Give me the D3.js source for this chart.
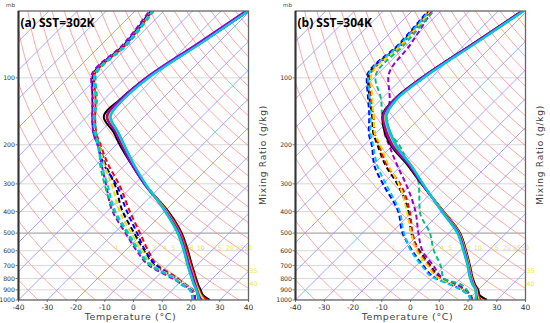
<!DOCTYPE html>
<html><head><meta charset="utf-8">
<script src="https://cdn.jsdelivr.net/npm/d3@7"></script>
<style>body{margin:0;background:#fff}svg{display:block}</style>
</head><body>
<svg id="c" width="550" height="323"></svg>
<script>
// ---------------- data ----------------
const pressureLevels = [1000, 950, 900, 850, 800, 700, 600, 500, 400, 300, 250, 200, 175, 150, 125, 100, 70, 50];
const seriesColors = ["#000000", "#ff0000", "#0000ff", "#f0dc00", "#9900cc", "#00c080", "#00c8e8"];
const panelTitles = ["(a) SST=302K", "(b) SST=304K"];
const isobarTicks = [100, 200, 300, 400, 500, 600, 700, 800, 900, 1000];
const tempTicks = [-40, -30, -20, -10, 0, 10, 20, 30, 40];
const mixRatioLabels = [1, 2, 3, 4, 5, 8, 10, 15, 20, 25, 30, 35, 40];

// panel (a) temperature (°C) per series
const tempA = [
  [26.5, 22.5, 19.8, 17.0, 14.3, 8.4, 1.8, -6.5, -18.6, -36.6, -46.8, -58.8, -65.5, -74.0, -74.5, -72.5, -66.0, -60.5],
  [25.5, 22.0, 19.3, 16.6, 14.0, 8.1, 1.5, -6.8, -18.9, -36.4, -46.4, -58.0, -64.7, -73.0, -74.0, -72.5, -66.3, -61.0],
  [24.0, 21.3, 18.8, 16.0, 13.3, 7.4, 0.8, -7.4, -19.3, -36.6, -46.6, -58.0, -64.5, -72.5, -74.0, -72.8, -66.5, -61.2],
  [24.5, 21.6, 19.0, 16.3, 13.6, 7.7, 1.0, -7.2, -19.2, -36.5, -46.5, -57.8, -64.3, -72.3, -73.6, -72.2, -66.0, -60.8],
  [23.5, 21.0, 18.6, 16.0, 13.4, 7.5, 0.9, -7.3, -19.4, -36.7, -46.8, -58.2, -64.8, -72.8, -74.2, -73.0, -67.0, -61.5],
  [22.5, 20.5, 18.2, 15.4, 12.7, 6.8, 0.3, -8.0, -19.8, -36.3, -46.0, -57.2, -63.8, -71.6, -73.2, -72.0, -65.8, -60.5],
  [23.0, 20.8, 18.4, 15.6, 12.9, 7.0, 0.5, -7.7, -19.6, -36.2, -46.1, -57.3, -63.9, -71.8, -73.4, -72.1, -65.9, -60.6]
];
// panel (a) dew point (°C) per series
const dewA = [
  [21.5, 19.5, 17.0, 12.5, 7.5, -4.5, -13.5, -23.0, -34.5, -47.0, -56.0, -66.0, -72.0, -77.5, -84.0, -91.5, -92.0, -94.5],
  [21.0, 19.0, 16.5, 12.0, 8.0, -3.5, -12.0, -21.0, -32.0, -45.5, -55.0, -65.5, -71.5, -77.0, -83.0, -91.0, -91.5, -94.0],
  [21.0, 19.0, 16.5, 12.0, 7.0, -4.0, -13.0, -22.0, -33.0, -46.5, -56.5, -66.5, -72.5, -78.0, -84.0, -91.5, -92.0, -94.5],
  [21.2, 19.2, 16.8, 12.2, 7.2, -5.0, -14.0, -24.0, -35.5, -48.0, -56.5, -66.0, -72.0, -77.5, -83.5, -91.0, -91.5, -94.0],
  [21.5, 19.3, 16.4, 11.5, 6.0, -6.5, -16.0, -26.0, -38.0, -50.0, -57.5, -66.5, -72.5, -78.0, -84.0, -92.0, -92.5, -95.0],
  [20.5, 18.5, 16.0, 11.0, 6.5, -6.0, -15.5, -25.5, -37.5, -50.5, -58.0, -66.0, -71.5, -77.0, -82.5, -90.5, -91.0, -93.5],
  [20.7, 18.7, 16.2, 11.5, 6.8, -5.5, -15.0, -25.0, -37.0, -49.5, -57.5, -66.5, -72.0, -77.5, -83.0, -91.0, -91.5, -94.0]
];
// panel (b) temperature (°C) per series
const tempB = [
  [26.6, 22.3, 20.0, 17.0, 14.2, 8.7, 2.2, -6.0, -19.2, -36.6, -47.2, -61.0, -67.5, -73.5, -75.5, -73.5, -67.5, -61.8],
  [24.5, 21.8, 19.6, 16.7, 14.0, 8.5, 2.0, -6.2, -19.3, -36.4, -46.8, -60.5, -67.0, -73.2, -75.2, -73.2, -67.2, -61.5],
  [23.5, 21.3, 19.3, 16.4, 13.7, 8.3, 1.8, -6.4, -19.5, -36.3, -46.5, -60.2, -66.6, -73.0, -75.0, -73.0, -67.0, -61.4],
  [23.8, 21.5, 19.4, 16.5, 13.8, 8.4, 1.9, -6.3, -19.4, -36.2, -46.4, -60.0, -66.5, -72.8, -74.8, -72.9, -66.9, -61.3],
  [23.3, 21.2, 19.2, 16.3, 13.6, 8.2, 1.7, -6.5, -19.6, -36.4, -46.6, -60.3, -66.8, -73.2, -75.3, -73.4, -67.3, -61.6],
  [22.5, 21.0, 19.0, 16.0, 13.2, 7.8, 1.2, -7.0, -19.9, -36.0, -46.0, -59.0, -65.5, -72.0, -74.5, -72.6, -66.6, -61.0],
  [22.8, 21.1, 19.1, 16.1, 13.4, 8.0, 1.4, -6.8, -19.8, -36.1, -46.2, -59.3, -65.8, -72.3, -74.7, -72.8, -66.8, -61.2]
];
// panel (b) dew point (°C) per series
const dewB = [
  [21.5, 19.0, 15.5, 10.0, 3.5, -5.0, -14.0, -23.0, -31.5, -45.0, -55.0, -65.5, -71.5, -77.0, -84.0, -92.0, -92.5, -94.0],
  [21.5, 19.2, 15.3, 9.5, 3.0, -5.5, -14.5, -22.5, -31.0, -44.0, -54.5, -65.0, -71.0, -76.5, -83.5, -91.5, -92.0, -93.5],
  [21.0, 18.5, 14.5, 8.5, 1.5, -7.5, -16.5, -26.0, -35.0, -50.0, -59.0, -67.5, -73.0, -78.0, -84.5, -92.5, -93.0, -94.5],
  [21.3, 18.8, 15.0, 9.5, 2.5, -6.0, -15.0, -23.0, -32.0, -44.5, -54.0, -64.5, -71.0, -76.5, -83.0, -91.0, -92.0, -93.5],
  [21.5, 19.0, 15.5, 10.5, 4.0, -4.0, -13.0, -20.5, -29.0, -42.0, -51.0, -61.5, -67.5, -72.0, -77.0, -85.0, -89.0, -93.0],
  [21.0, 18.8, 16.0, 12.0, 4.0, -1.5, -9.0, -16.5, -27.5, -37.5, -47.0, -58.0, -66.0, -73.5, -80.0, -89.5, -91.0, -92.5],
  [20.8, 18.3, 14.0, 8.0, 1.0, -8.0, -17.0, -25.5, -34.5, -49.0, -58.0, -67.0, -72.5, -77.5, -84.0, -92.0, -92.5, -94.0]
];

// ---------------- drawing ----------------
const svg = d3.select("#c");
const TOP = 11, BOTTOM = 300, PW = 230;
const panels = [
  {left: 18.5, temps: tempA, dews: dewA, title: panelTitles[0]},
  {left: 295.5, temps: tempB, dews: dewB, title: panelTitles[1]}
];
const yScale = d3.scaleLog().domain([1000, 50]).range([BOTTOM, TOP]);

// mixing ratio (g/kg) -> dew point (°C) at pressure p
function mixToTd(w, p) {
  const e = w * p / (622 + w);
  const l = Math.log(e / 6.112);
  return 243.5 * l / (17.67 - l);
}

panels.forEach((P, pi) => {
  const xScale = d3.scaleLinear().domain([-40, 40]).range([P.left, P.left + PW]);
  const sx = (t, p) => xScale(t) + (BOTTOM - yScale(p));
  const g = svg.append("g");
  const clipId = "clip" + pi;
  svg.append("clipPath").attr("id", clipId).append("rect")
    .attr("x", P.left).attr("y", TOP).attr("width", PW).attr("height", BOTTOM - TOP);
  const inner = g.append("g").attr("clip-path", `url(#${clipId})`);

  // isobars
  isobarTicks.forEach(p => {
    inner.append("line").attr("x1", P.left).attr("x2", P.left + PW)
      .attr("y1", yScale(p)).attr("y2", yScale(p))
      .attr("stroke", p === 500 ? "#a8a8a8" : "#d8d8d8").attr("stroke-width", p === 500 ? 1.4 : 1);
  });
  // dry adiabats (red)
  const adiabatLine = d3.line().x(d => d[0]).y(d => d[1]);
  for (let th = 230; th <= 560; th += 10) {
    const pts = [];
    for (let p = 1000; p >= 49; p -= 10) {
      const t = th * Math.pow(p / 1000, 0.286) - 273.15;
      pts.push([sx(t, p), yScale(p)]);
    }
    inner.append("path").attr("d", adiabatLine(pts)).attr("fill", "none")
      .attr("stroke", "#ff8f8f").attr("stroke-width", 0.8);
  }
  // isotherms (blue)
  for (let t = -180; t <= 40; t += 10) {
    inner.append("line").attr("x1", sx(t, 1000)).attr("y1", yScale(1000))
      .attr("x2", sx(t, 50)).attr("y2", yScale(50))
      .attr("stroke", "#8f8fff").attr("stroke-width", 0.8);
  }

  // profiles
  const profLine = d3.line().x(d => sx(d.v, d.p)).y(d => yScale(d.p)).curve(d3.curveMonotoneY);
  P.dews.forEach((arr, si) => {
    const data = pressureLevels.map((p, i) => ({p, v: arr[i]}));
    inner.append("path").attr("d", profLine(data)).attr("fill", "none")
      .attr("stroke", seriesColors[si]).attr("stroke-width", 2)
      .attr("stroke-dasharray", "5,3");
  });
  P.temps.forEach((arr, si) => {
    const data = pressureLevels.map((p, i) => ({p, v: arr[i]}));
    inner.append("path").attr("d", profLine(data)).attr("fill", "none")
      .attr("stroke", seriesColors[si]).attr("stroke-width", 2);
  });

  // mixing ratio labels
  mixRatioLabels.forEach(w => {
    let p = 600, x = sx(mixToTd(w, p), p), dy = -1;
    if (x > P.left + PW) {
      for (p = 600; p <= 1000; p += 5) { x = sx(mixToTd(w, p), p); if (x <= P.left + PW) break; }
      x = P.left + PW + 5; dy = 9;
    }
    g.append("text").attr("x", x).attr("y", yScale(p) + dy).attr("text-anchor", "middle")
      .attr("font-family", "DejaVu Sans").attr("font-size", 6.3).attr("fill", "#e8e840").text(w);
  });

  // frame
  g.append("rect").attr("x", P.left).attr("y", TOP).attr("width", PW).attr("height", BOTTOM - TOP)
    .attr("fill", "none").attr("stroke", "#666").attr("stroke-width", 1.3);
  g.append("line").attr("x1", P.left).attr("x2", P.left).attr("y1", TOP).attr("y2", BOTTOM)
    .attr("stroke", "#333").attr("stroke-width", 2);

  // y ticks and labels
  isobarTicks.forEach(p => {
    g.append("line").attr("x1", P.left - 3).attr("x2", P.left).attr("y1", yScale(p)).attr("y2", yScale(p))
      .attr("stroke", "#555").attr("stroke-width", 0.8);
    g.append("text").attr("x", P.left - 3.5).attr("y", yScale(p) + 2.3).attr("text-anchor", "end")
      .attr("font-family", "DejaVu Sans").attr("font-size", 6.2).attr("fill", "#333").text(p);
  });
  g.append("text").attr("x", P.left - 8).attr("y", 7).attr("text-anchor", "middle")
    .attr("font-family", "DejaVu Sans").attr("font-size", 5.5).attr("fill", "#444").text("mb");
  // x ticks and labels
  tempTicks.forEach(t => {
    g.append("line").attr("x1", xScale(t)).attr("x2", xScale(t)).attr("y1", BOTTOM).attr("y2", BOTTOM + 2)
      .attr("stroke", "#555").attr("stroke-width", 0.8);
    g.append("text").attr("x", xScale(t)).attr("y", 310).attr("text-anchor", "middle")
      .attr("font-family", "DejaVu Sans").attr("font-size", 7.5).attr("fill", "#333").text(t);
  });
  g.append("text").attr("x", P.left + 112).attr("y", 320).attr("text-anchor", "middle")
    .attr("font-family", "DejaVu Sans").attr("font-size", 9.5).attr("letter-spacing", 0.6)
    .attr("fill", "#444").text("Temperature (°C)");
  g.append("text").attr("transform", `translate(${P.left + PW + 17},155) rotate(-90)`)
    .attr("text-anchor", "middle").attr("font-family", "DejaVu Sans").attr("font-size", 9)
    .attr("letter-spacing", 0.8).attr("fill", "#444").text("Mixing Ratio (g/kg)");
  // title
  g.append("text").attr("x", P.left + 2).attr("y", 27).attr("font-family", "Open Sans")
    .attr("font-weight", "bold").attr("font-size", 12).attr("fill", "#000").text(P.title);
});
</script>
</body></html>
